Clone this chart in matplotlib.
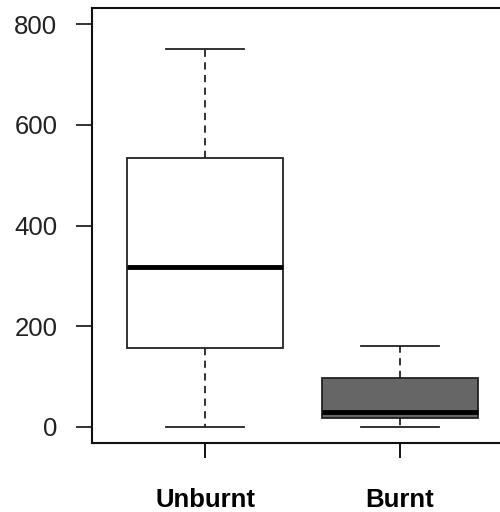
import matplotlib
matplotlib.use("Agg")
import matplotlib.pyplot as plt

categories = ["Unburnt", "Burnt"]
whisker_low = [0, 0]
q1 = [157, 18]
median = [317, 30]
q3 = [534, 97]
whisker_high = [750, 161]
fills = ["white", "#666666"]
yticks = [0, 200, 400, 600, 800]

plt.rcParams['font.family'] = ['Liberation Sans', 'DejaVu Sans']

fig = plt.figure(figsize=(5.0, 5.12), dpi=100)
ax = fig.add_axes([0.184, 0.1348, 0.842, 0.8492])

stats = []
for i, c in enumerate(categories):
    stats.append(dict(label=c, whislo=whisker_low[i], q1=q1[i], med=median[i],
                      q3=q3[i], whishi=whisker_high[i], fliers=[]))

bp = ax.bxp(stats, positions=[1, 2], widths=0.8, patch_artist=True,
            showfliers=False,
            boxprops=dict(linewidth=1.3, edgecolor="#222222"),
            medianprops=dict(linewidth=3.5, color="black", solid_capstyle="butt"),
            whiskerprops=dict(linewidth=1.3, linestyle=(0, (4, 3)), color="#222222"),
            capprops=dict(linewidth=1.3, color="#222222"),
            capwidths=0.4)
for patch, f in zip(bp['boxes'], fills):
    patch.set_facecolor(f)

ax.set_xlim(0.42, 2.58)
ax.set_ylim(-32, 832)
ax.set_yticks(yticks)
ax.set_yticklabels([str(v) for v in yticks])
ax.set_xticks([1, 2])
ax.set_xticklabels(categories, fontweight="bold")

for s in ax.spines.values():
    s.set_linewidth(1.5)
    s.set_color("#111111")
ax.spines['right'].set_visible(False)

ax.tick_params(axis='y', length=11.5, width=1.3, labelsize=18.5, pad=13.5, colors="#222222")
ax.tick_params(axis='x', length=11, width=1.3, labelsize=18.5, pad=21.5, colors="black")

fig.text(-0.012, 1.005, ")", fontsize=16, ha="left", va="top", color="black")

fig.savefig("out.png", dpi=100)
